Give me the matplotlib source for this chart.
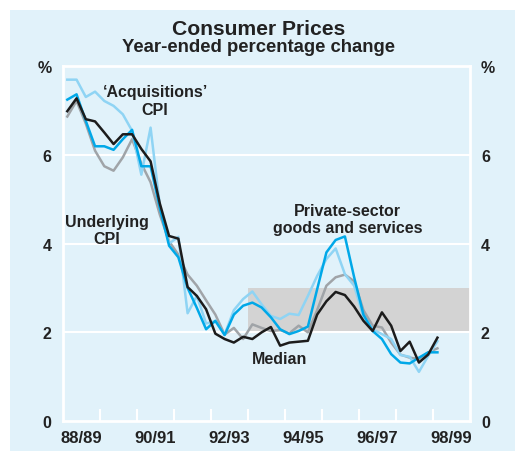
import matplotlib
matplotlib.use("Agg")
import matplotlib.pyplot as plt
from matplotlib.patches import Rectangle
import numpy as np

plt.rcParams['font.family'] = ['Liberation Sans', 'DejaVu Sans']

# Quarterly year-ended % change, Sep qtr 1988 to Sep qtr 1998
first_quarter = 1988.75   # Sep quarter 1988
median = [6.98, 7.27, 6.80, 6.75, 6.50, 6.24, 6.46, 6.46, 6.13, 5.85,
          4.90, 4.17, 4.11, 3.02, 2.82, 2.52, 1.97, 1.85, 1.77, 1.90,
          1.85, 2.00, 2.12, 1.70, 1.77, 1.79, 1.81, 2.40, 2.70, 2.91,
          2.84, 2.58, 2.26, 2.03, 2.45, 2.15, 1.58, 1.79, 1.32, 1.50,
          1.88]
private_sector = [7.24, 7.36, 6.76, 6.19, 6.19, 6.11, 6.35, 6.56, 5.74, 5.74,
                  4.80, 3.95, 3.69, 3.00, 2.55, 2.07, 2.26, 1.94, 2.40, 2.60,
                  2.67, 2.56, 2.34, 2.07, 1.96, 2.03, 2.13, 2.97, 3.80, 4.08,
                  4.16, 3.24, 2.40, 2.03, 1.85, 1.51, 1.32, 1.30, 1.43, 1.55,
                  1.55]
underlying = [6.86, 7.21, 6.70, 6.09, 5.74, 5.64, 5.94, 6.35, 5.80, 5.38,
              4.65, 4.05, 3.75, 3.30, 3.05, 2.72, 2.40, 1.95, 2.10, 1.85,
              2.18, 2.10, 2.03, 2.05, 1.98, 2.15, 2.00, 2.50, 3.05, 3.24,
              3.30, 3.15, 2.50, 2.15, 2.11, 1.77, 1.50, 1.43, 1.40, 1.55,
              1.64]
acquisitions = [7.69, 7.69, 7.30, 7.42, 7.21, 7.10, 6.91, 6.54, 5.55, 6.61,
                4.85, 4.00, 4.15, 2.43, 2.82, 2.20, 2.25, 1.95, 2.50, 2.75,
                2.92, 2.63, 2.37, 2.30, 2.42, 2.39, 2.82, 3.27, 3.65, 3.89,
                3.31, 3.05, 2.35, 2.07, 1.96, 1.85, 1.49, 1.45, 1.11, 1.47,
                1.80]

# target band from 93/94 onwards
band_start = 1993.5
band_low, band_high = 2, 3

fy_start = 1988.5   # July 1988
fy_labels = ['88/89', '90/91', '92/93', '94/95', '96/97', '98/99']

bg = '#e1f2fa'
ink = '#222222'

# quarter mid-points, in years since start of 88/89
x = np.arange(len(median)) * 0.25 + (first_quarter - 0.125 - fy_start)

fig = plt.figure(figsize=(5.18, 4.52), dpi=100, facecolor='white')
# pale panel behind the whole chart, white margin round it
fig.patches.append(Rectangle((10 / 518, 0), 505 / 518, 441 / 452,
                             transform=fig.transFigure, facecolor=bg,
                             edgecolor='none', zorder=-5))

ax = fig.add_axes([0.121, 0.066, 0.786, 0.786], facecolor=bg)

ax.set_xlim(0, 11)
ax.set_ylim(0, 8)

ax.axhspan(band_low, band_high, xmin=(band_start - fy_start) / 11, xmax=1,
           color='#d3d3d3', lw=0, zorder=0)
for y in (2, 4, 6):
    ax.axhline(y, color='white', lw=1.5, zorder=0.5)

ax.plot(x, underlying, color='#a0a4a8', lw=1.8, zorder=2)
ax.plot(x, acquisitions, color='#8fd4f4', lw=1.8, zorder=3)
ax.plot(x, private_sector, color='#00a8e8', lw=1.8, zorder=4)
ax.plot(x, median, color='#1c1c1c', lw=1.8, zorder=5)

for s in ax.spines.values():
    s.set_color('white')
    s.set_linewidth(2)

# year tick marks, labels centred on every second year
ax.set_xticks(np.arange(1, 11))
ax.set_xticklabels([])
ax.tick_params(axis='x', direction='in', length=9, width=1.5, color='white')
ax.set_xticks(np.arange(0.5, 11, 2), minor=True)
ax.set_xticklabels(fy_labels, minor=True, fontsize=12, fontweight='bold',
                   color=ink)
ax.tick_params(axis='x', which='minor', length=0, pad=6)

ax.set_yticks([0, 2, 4, 6, 8])
ax.set_yticklabels(['0', '2', '4', '6', '%'], fontsize=11.5, fontweight='bold',
                   color=ink)
ax.tick_params(axis='y', length=0, pad=8, labelright=True)

fig.text(0.5, 0.935, 'Consumer Prices', ha='center', va='center',
         fontsize=15.2, fontweight='bold', color=ink)
fig.text(0.5, 0.895, 'Year-ended percentage change', ha='center', va='center',
         fontsize=13.3, fontweight='bold', color=ink)

lbl = dict(ha='center', va='center', fontsize=11.5, fontweight='bold',
           color=ink, linespacing=1.2)
ax.text(2.5, 7.22, '\u2018Acquisitions\u2019\nCPI', **lbl)
ax.text(1.2, 4.3, 'Underlying\nCPI', **lbl)
ax.text(7.7, 4.55, 'Private-sector\ngoods and services', **lbl)
ax.text(5.87, 1.4, 'Median', **lbl)

fig.savefig('out.png', dpi=100, facecolor='white')
